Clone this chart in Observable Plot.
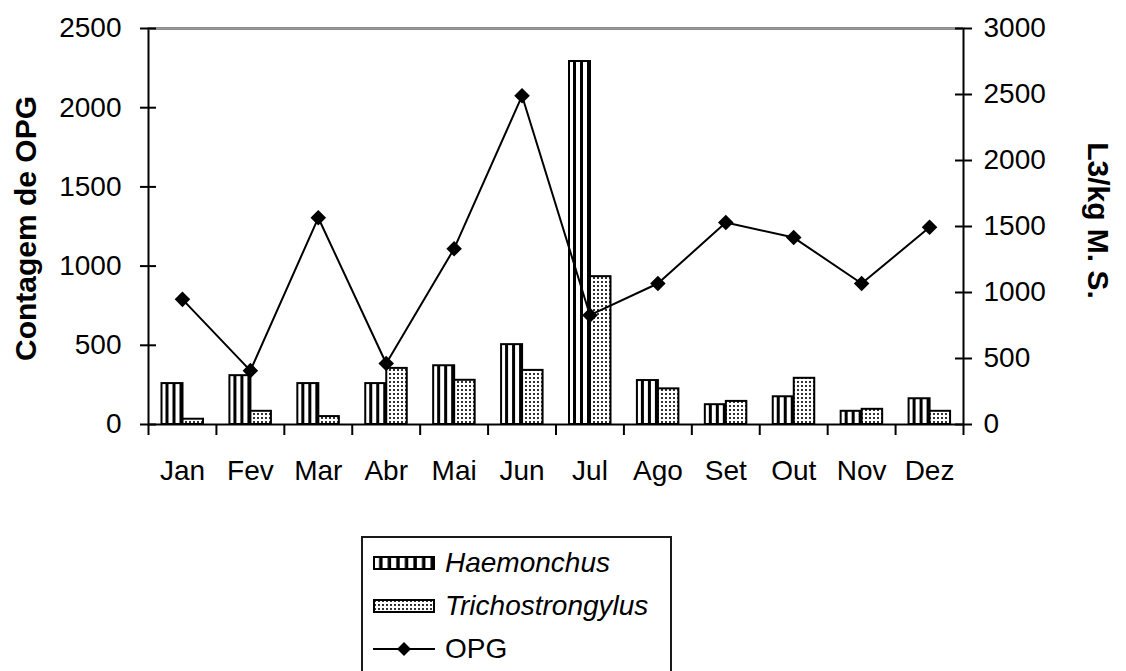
<!DOCTYPE html>
<html><head><meta charset="utf-8">
<script src="https://cdn.jsdelivr.net/npm/d3@7"></script>
<script src="https://cdn.jsdelivr.net/npm/@observablehq/plot@0.6"></script>
<style>
body{margin:0;background:#fff;font-family:"Liberation Sans",Arial,sans-serif;}
#wrap{position:relative;width:1126px;height:671px;overflow:hidden;background:#fff;}
#legend{position:absolute;left:361px;top:536px;width:307px;height:170px;border:2px solid #1a1a1a;background:#fff;}
.item{position:absolute;left:10px;height:34px;display:flex;align-items:center;font-size:28px;color:#000;white-space:nowrap;}
.item svg{margin-right:10px;flex:none}
</style></head>
<body>
<svg width="0" height="0" style="position:absolute">
<defs>
<pattern id="hae" patternUnits="objectBoundingBox" patternContentUnits="objectBoundingBox" width="0.33333" height="1">
<rect x="0" y="0" width="0.33333" height="1" fill="#fff"/>
<rect x="0.19" y="0" width="0.15" height="1" fill="#000"/>
</pattern>
<pattern id="haeLeg" patternUnits="objectBoundingBox" patternContentUnits="objectBoundingBox" width="0.142857" height="1">
<rect x="0" y="0" width="0.142857" height="1" fill="#fff"/>
<rect x="0.085" y="0" width="0.058" height="1" fill="#000"/>
</pattern>
<pattern id="tri" patternUnits="userSpaceOnUse" width="4" height="4">
<rect x="0" y="0" width="4" height="4" fill="#fff"/>
<rect x="1" y="1" width="2" height="2" fill="#333"/>
</pattern>
</defs>
</svg>
<div id="wrap">
<div id="chart"></div>
<div id="legend"></div>
</div>
<script>
const months = ["Jan","Fev","Mar","Abr","Mai","Jun","Jul","Ago","Set","Out","Nov","Dez"];
// L3/kg M.S. (right axis)
const haemonchus = [310,370,310,310,445,605,2750,333,150,210,100,195];
const trichostrongylus = [40,100,60,425,335,410,1120,270,175,350,115,100];
// Contagem de OPG (left axis)
const opg = [790,340,1305,385,1110,2075,690,890,1275,1180,890,1245];
const leftTicks = [0,500,1000,1500,2000,2500];
const rightTicks = [0,500,1000,1500,2000,2500,3000];
const legendLabels = ["Haemonchus","Trichostrongylus","OPG"];

const rows = months.map((m,i)=>({month:m, h:haemonchus[i], t:trichostrongylus[i], opg:opg[i]}));
const leftMax = d3.max(leftTicks), rightMax = d3.max(rightTicks);
const k = leftMax / rightMax;

const W = 1126, H = 500, mL = 148, mR = 163, mT = 28, mB = 76;
const plotW = W - mL - mR;
const bw = plotW / months.length;
const ink = "#000";

const chart = Plot.plot({
  width: W, height: H,
  marginLeft: mL, marginRight: mR, marginTop: mT, marginBottom: mB,
  style: {fontFamily: '"Liberation Sans", Arial, sans-serif', fontSize: "28px", background: "#fff", color: "#000"},
  x: {domain: months, padding: 0, round: false},
  y: {domain: [0, leftMax]},
  marks: [
    Plot.barY(rows, {x: "month", y: d => d.h * k, fill: "url(#hae)", stroke: ink, strokeWidth: 2, insetLeft: 13.5, insetRight: bw - 34.5}),
    Plot.barY(rows, {x: "month", y: d => d.t * k, fill: "url(#tri)", stroke: ink, strokeWidth: 2, insetLeft: 34.5, insetRight: bw - 55}),
    Plot.frame({stroke: ink, strokeWidth: 2}),
    Plot.ruleY([leftMax], {stroke: "#9a9a9a", strokeWidth: 2}),
    Plot.ruleX(months, {x: d => d, dx: -bw/2, y1: 0, y2: 0, insetBottom: -11, stroke: ink, strokeWidth: 2}),
    Plot.ruleX([months[months.length-1]], {x: d => d, dx: bw/2, y1: 0, y2: 0, insetBottom: -11, stroke: ink, strokeWidth: 2}),
    Plot.ruleY(leftTicks, {y: d => d, insetRight: plotW - 8, stroke: ink, strokeWidth: 2}),
    Plot.ruleY(rightTicks, {y: d => d * k, insetLeft: plotW - 8, stroke: ink, strokeWidth: 2}),
    Plot.line(rows, {x: "month", y: "opg", stroke: ink, strokeWidth: 2}),
    Plot.dot(rows, {x: "month", y: "opg", symbol: "diamond2", r: 7, fill: ink, stroke: null}),
    Plot.axisY(leftTicks, {anchor: "left", tickSize: 8, tickPadding: 19, strokeWidth: 2, fontSize: 28, label: null, tickFormat: d => String(d)}),
    Plot.axisY(rightTicks.map(v => v * k), {anchor: "right", tickSize: 8, tickPadding: 12, strokeWidth: 2, fontSize: 28, label: null, tickFormat: d => String(Math.round(d / k))}),
    Plot.axisX({tickSize: 0, tickPadding: 36, fontSize: 28, label: null}),
    Plot.text(["Contagem de OPG"], {text: d => d, frameAnchor: "left", textAnchor: "middle", lineAnchor: "middle", rotate: -90, dx: -122, dy: 2, fontWeight: "bold", fontSize: 30}),
    Plot.text(["L3/kg M. S."], {text: d => d, frameAnchor: "right", textAnchor: "middle", lineAnchor: "middle", rotate: 90, dx: 134, dy: -6, fontWeight: "bold", fontSize: 30})
  ]
});
document.getElementById("chart").appendChild(chart);

// Legend
const legend = document.getElementById("legend");
const tops = [8, 51, 94];
legendLabels.forEach((lab, i) => {
  const it = document.createElement("div");
  it.className = "item";
  it.style.top = tops[i] + "px";
  let sw;
  if (i === 0) sw = '<svg width="62" height="14"><rect x="1" y="1" width="60" height="12" fill="url(#haeLeg)" stroke="#000" stroke-width="2"/></svg>';
  else if (i === 1) sw = '<svg width="62" height="14"><rect x="1" y="1" width="60" height="12" fill="url(#tri)" stroke="#000" stroke-width="2"/></svg>';
  else sw = '<svg width="62" height="18"><line x1="0" y1="9" x2="62" y2="9" stroke="#000" stroke-width="2"/><polygon points="31,2 38,9 31,16 24,9" fill="#000"/></svg>';
  it.innerHTML = sw + '<span style="' + (i < 2 ? 'font-style:italic' : '') + '">' + lab + '</span>';
  legend.appendChild(it);
});
</script>
</body></html>
